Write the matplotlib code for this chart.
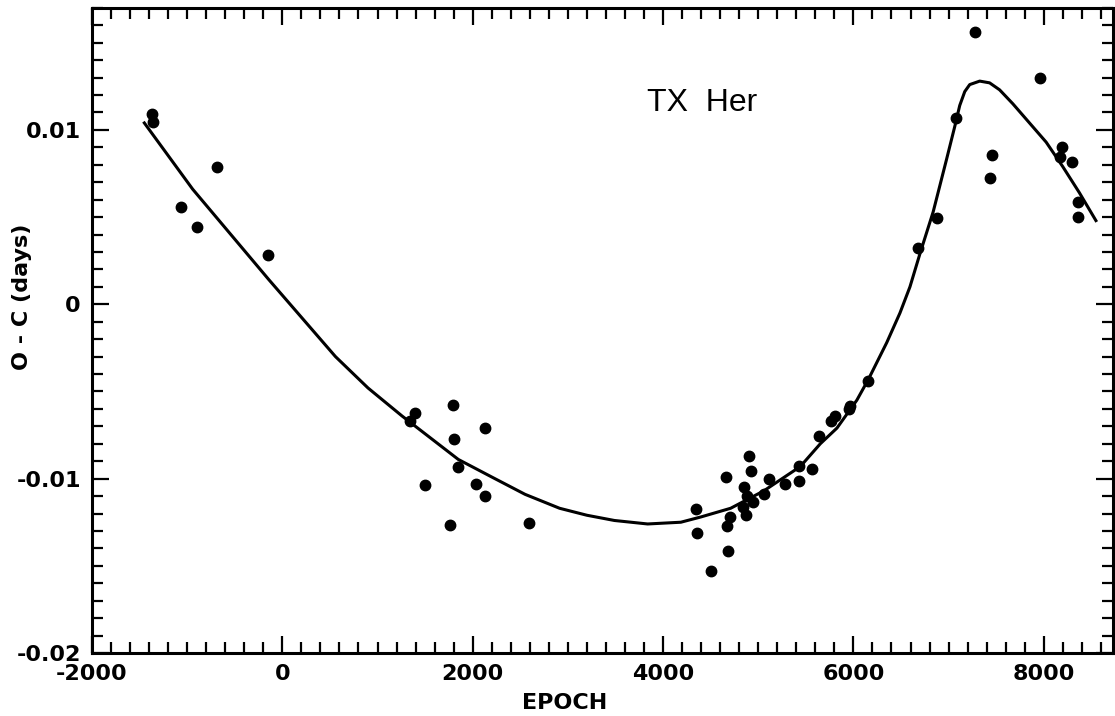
import numpy as np
import matplotlib
matplotlib.use('Agg')
import matplotlib.pyplot as plt
from matplotlib.ticker import MultipleLocator

epoch = [-1371, -1361, -688, -1064, -897, -150,
         1389, 1343, 1797, 2132, 1803, 1849, 1504, 2038, 2125, 1766, 2593,
         4344, 4361, 4501, 4686, 4676, 4700, 4665, 4902, 4919, 4846, 4878,
         4836, 4867, 4940, 5111, 5059, 5286, 5425, 5425, 5565, 5634, 5809,
         5767, 5966, 5956, 6158, 6681, 6873, 7083, 7274, 7456, 7439, 7965,
         8188, 8175, 8297, 8356, 8363]
oc = [0.01093, 0.01044, 0.00790, 0.00558, 0.00443, 0.00283,
      -0.00621, -0.00670, -0.00578, -0.00707, -0.00771, -0.00931, -0.01038,
      -0.01033, -0.01100, -0.01268, -0.01252,
      -0.01176, -0.01310, -0.01530, -0.01415, -0.01272, -0.01218, -0.00991,
      -0.00870, -0.00956, -0.01050, -0.01100, -0.01160, -0.01210, -0.01136,
      -0.01004, -0.01090, -0.01033, -0.00928, -0.01014, -0.00947, -0.00756,
      -0.00641, -0.00670, -0.00583, -0.00600, -0.00440, 0.00325, 0.00497,
      0.01071, 0.01559, 0.00855, 0.00723, 0.01297, 0.00902, 0.00842,
      0.00816, 0.00587, 0.00501]

# fitted curve
fit_epoch = [-1450, -942, -140, 209, 558, 900, 1256, 1849, 2198, 2550,
             2913, 3200, 3489, 3838, 4187, 4396, 4710, 5059, 5443, 5652,
             5827, 6036, 6158, 6350, 6489, 6594, 6699, 6838, 6978, 7065,
             7117, 7170, 7222, 7327, 7431, 7536, 7675, 7850, 8025, 8199,
             8374, 8548]
fit_oc = [0.0104, 0.0066, 0.0014, -0.0008, -0.0030, -0.0048, -0.0064,
          -0.0089, -0.0099, -0.0109, -0.0117, -0.0121, -0.0124, -0.0126,
          -0.0125, -0.0122, -0.0117, -0.0107, -0.0093, -0.0080, -0.0071,
          -0.0055, -0.0043, -0.0022, -0.0005, 0.0010, 0.0029, 0.0053,
          0.0083, 0.0102, 0.0114, 0.0122, 0.0126, 0.0128, 0.0127, 0.0123,
          0.0115, 0.0104, 0.0093, 0.0079, 0.0064, 0.0048]

plt.rcParams['font.family'] = 'DejaVu Sans'

fig = plt.figure(figsize=(11.15, 7.16), dpi=100)
ax = fig.add_axes([0.0825, 0.088, 0.9155, 0.901])

ax.plot(fit_epoch, fit_oc, color='black', linewidth=2.2)
ax.plot(epoch, oc, linestyle='none', marker='o', markersize=7.5, color='black')

ax.set_xlim(-2000, 8725)
ax.set_ylim(-0.02, 0.017)
ax.xaxis.set_major_locator(MultipleLocator(2000))
ax.xaxis.set_minor_locator(MultipleLocator(200))
ax.yaxis.set_major_locator(MultipleLocator(0.01))
ax.yaxis.set_minor_locator(MultipleLocator(0.001))
ax.set_yticks([-0.02, -0.01, 0, 0.01])
ax.set_yticklabels(['-0.02', '-0.01', '0', '0.01'])
ax.set_xticks([-2000, 0, 2000, 4000, 6000, 8000])
ax.set_xticklabels(['-2000', '0', '2000', '4000', '6000', '8000'])

ax.tick_params(which='both', direction='in', top=True, right=True, width=1.6)
ax.tick_params(which='major', length=12, labelsize=16, pad=8)
ax.tick_params(which='minor', length=8)
for lab in ax.get_xticklabels() + ax.get_yticklabels():
    lab.set_fontweight('bold')
for s in ax.spines.values():
    s.set_linewidth(2.2)

ax.text(3830, 0.01107, 'TX  Her', fontsize=23, family='Liberation Sans',
        va='baseline')

fig.text(0.506, 0.018, 'EPOCH', fontsize=16, fontweight='bold', ha='center', va='center')
fig.text(0.02, 0.585, 'O - C (days)', fontsize=16, fontweight='bold',
         rotation=90, ha='center', va='center')

fig.savefig('out.png', dpi=100)
